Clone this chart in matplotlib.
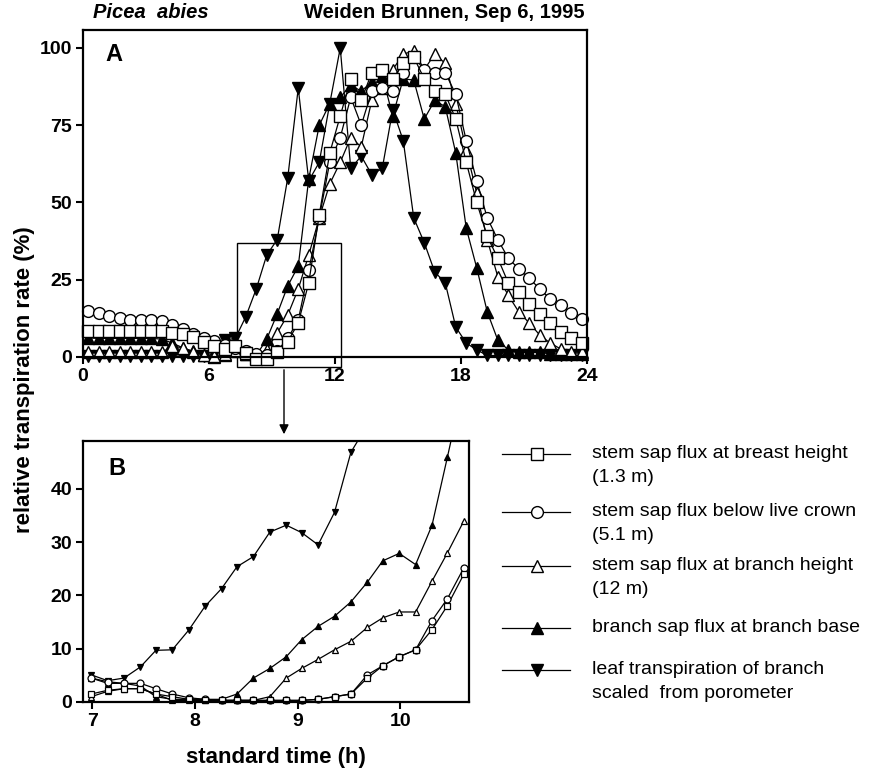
import matplotlib
matplotlib.use('Agg')
import numpy as np
import matplotlib.pyplot as plt
from matplotlib.patches import Rectangle, FancyArrowPatch

plt.rcParams['font.family'] = ['Liberation Sans', 'DejaVu Sans']

# ---- panel A : half-hourly values (h, % of maximum)
hours_a = [0.25, 0.75, 1.25, 1.75, 2.25, 2.75, 3.25, 3.75, 4.25, 4.75, 5.25, 5.75,
           6.25, 6.75, 7.25, 7.75, 8.25, 8.75, 9.25, 9.75, 10.25, 10.75, 11.25, 11.75,
           12.25, 12.75, 13.25, 13.75, 14.25, 14.75, 15.25, 15.75, 16.25, 16.75, 17.25, 17.75,
           18.25, 18.75, 19.25, 19.75, 20.25, 20.75, 21.25, 21.75, 22.25, 22.75, 23.25, 23.75]

breast_a = [8.4, 8.4, 8.4, 8.4, 8.3, 8.3, 8.3, 8.3, 7.8, 7.4, 6.5, 5.0,
            3.5, 2.5, 3.5, 1.3, -0.5, -0.5, 1.6, 5.0, 11, 24, 46, 66,
            78, 90, 83, 92, 93, 90, 95, 97, 90, 86, 85, 77,
            63, 50, 39, 32, 24, 21, 17, 14, 11, 8, 6, 4.5]

crown_a = [15.0, 14.1, 13.4, 12.7, 12.0, 12.0, 12.0, 11.7, 10.4, 9.1, 7.4, 6.2,
           5.2, 3.9, 3.0, 2.0, 1.0, 0.8, 2.0, 6.0, 12, 28, 45, 63,
           71, 84, 75, 86, 87, 86, 92, 97, 93, 92, 92, 85,
           70, 57, 45, 38, 32, 28.5, 25.5, 22, 18.8, 16.8, 14.2, 12.3]

height12_a = [1.5, 1.5, 1.5, 1.5, 1.5, 1.5, 1.5, 1.5, 3.5, 3.0, 1.5, 0.5,
              0.3, 1.0, 2.0, 1.0, 0.5, 2.3, 7.8, 13.6, 22, 33, 45, 56,
              63, 71, 68, 83, 87, 93, 98, 99, 93, 98, 95, 82,
              67, 53, 38, 26, 20, 14.6, 11, 7.1, 4.5, 2.6, 1.6, 1.6]

base_a = [6.2, 6.0, 6.0, 6.0, 6.0, 6.0, 6.0, 5.8, 4.5, 3.0, 1.8, 0.8,
          0.0, 0.5, 3.0, 1.0, 0.5, 5.8, 14, 23, 29.4, 57.6, 75, 82,
          84, 88, 86, 89, 91, 78, 90, 89.6, 77, 83, 81, 66,
          41.7, 28.8, 14.6, 5.5, 2.3, 1.5, 1.5, 1.5, 1.0, 1.0, 1.0, 1.0]

leaf_a = [0.3, 0.3, 0.3, 0.3, 0.3, 0.3, 0.3, 0.3, 0.3, 0.3, 0.3, 0.3,
          1.0, 5.5, 6, 13, 22, 33, 38, 58, 87, 57, 63, 82,
          100, 61, 65, 59, 61, 80, 70, 45, 37, 27.5, 24, 9.7,
          4.5, 2.3, 0.5, 0.5, 0.5, 0.5, 0.5, 0.5, 0.5, 0.5, 0.5, 0.5]

# ---- panel B : detail of the morning rise
hours_b = [6.99, 7.15, 7.31, 7.47, 7.62, 7.78, 7.94, 8.10, 8.26, 8.41, 8.57, 8.73,
           8.89, 9.04, 9.20, 9.36, 9.52, 9.68, 9.83, 9.99, 10.15, 10.31, 10.46, 10.62]

breast_b = [1.5, 2.2, 2.5, 2.5, 1.5, 1.0, 0.5, 0.3, 0.3, 0.3, 0.3, 0.3,
            0.3, 0.3, 0.5, 1.0, 1.5, 4.5, 6.8, 8.5, 9.8, 13.6, 18.1, 24.0]
crown_b = [4.5, 3.8, 3.5, 3.5, 2.5, 1.5, 0.8, 0.5, 0.3, 0.3, 0.3, 0.3,
           0.3, 0.3, 0.5, 1.0, 1.5, 5.1, 6.8, 8.5, 9.8, 15.3, 19.4, 25.2]
height12_b = [1.0, 2.0, 2.5, 2.5, 1.5, 0.3, 0.3, 0.3, 0.3, 0.3, 0.3, 1.0,
              4.5, 6.3, 8.0, 9.8, 11.4, 14.0, 15.8, 16.9, 16.9, 22.7, 28.0, 34.0]
base_b = [4.5, 3.5, 3.5, 3.0, 1.0, 0.5, 0.5, 0.5, 0.5, 1.5, 4.5, 6.3,
          8.5, 11.7, 14.2, 16.1, 18.8, 22.5, 26.5, 27.9, 25.8, 33.2, 46.0, 60.0]
leaf_b = [5.1, 4.0, 4.5, 6.6, 9.7, 9.8, 13.5, 18.0, 21.3, 25.4, 27.3, 31.9,
          33.2, 31.8, 29.5, 35.6, 46.9, 52.0, 62.0, 72.0, 80.0, 87.0, 87.0, 87.0]

legend_text = [['stem sap flux at breast height', '(1.3 m)'],
               ['stem sap flux below live crown', '(5.1 m)'],
               ['stem sap flux at branch height', '(12 m)'],
               ['branch sap flux at branch base'],
               ['leaf transpiration of branch', 'scaled  from porometer']]

# marker, face colour, drawing order
styles = [('s', 'white', 5), ('o', 'white', 4), ('^', 'white', 3),
          ('^', 'black', 1), ('v', 'black', 2)]

W, H = 882, 776


def box(l, t, r, b):
    return [l / W, 1 - b / H, (r - l) / W, (b - t) / H]


def style_axes(ax):
    for s in ax.spines.values():
        s.set_linewidth(1.6)
    ax.tick_params(direction='out', length=5, width=1.5, labelsize=14, pad=3)
    for lab in ax.get_xticklabels() + ax.get_yticklabels():
        lab.set_fontweight('bold')


fig = plt.figure(figsize=(8.82, 7.76), dpi=100)

# panel A
ax_a = fig.add_axes(box(83, 30, 587, 357))
series_a = [breast_a, crown_a, height12_a, base_a, leaf_a]
for vals, (mk, fc, z) in zip(series_a, styles):
    ax_a.plot(hours_a, vals, color='black', lw=0.9, marker=mk, ms=8.5,
              mfc=fc, mec='black', mew=1.0, clip_on=False, zorder=2 + z * 0.1)
ax_a.set_xlim(0, 24)
ax_a.set_ylim(0, 105.8)
ax_a.set_xticks([0, 6, 12, 18, 24])
ax_a.set_yticks([0, 25, 50, 75, 100])
style_axes(ax_a)
ax_a.text(0.045, 0.905, 'A', transform=ax_a.transAxes, fontsize=17, fontweight='bold')

# zoom rectangle in panel A
ax_a.add_patch(Rectangle((7.33, -3.2), 4.96, 40.1, fill=False, lw=1.0,
                         ec='black', clip_on=False))

# panel B
ax_b = fig.add_axes(box(83, 441, 469, 702))
series_b = [breast_b, crown_b, height12_b, base_b, leaf_b]
ylim_b = 49.0
for vals, (mk, fc, z) in zip(series_b, styles):
    ax_b.plot(hours_b, vals, color='black', lw=0.9, zorder=2)
    v = np.array(vals, dtype=float)
    v[v > ylim_b] = np.nan
    ax_b.plot(hours_b, v, ls='none', marker=mk, ms=5, mfc=fc, mec='black',
              mew=0.9, clip_on=False, zorder=2 + z * 0.1)
ax_b.set_xlim(6.91, 10.67)
ax_b.set_ylim(0, ylim_b)
ax_b.set_xticks([7, 8, 9, 10])
ax_b.set_yticks([0, 10, 20, 30, 40])
style_axes(ax_b)
ax_b.text(0.065, 0.87, 'B', transform=ax_b.transAxes, fontsize=17, fontweight='bold')

# arrow from box to panel B
fig.add_artist(FancyArrowPatch((284 / W, 1 - 367 / H), (284 / W, 1 - 437 / H),
                               transform=fig.transFigure, arrowstyle='-|>',
                               mutation_scale=14, lw=1.0, color='black'))

# titles and axis labels
fig.text(93 / W, 1 - 13 / H, 'Picea  abies', fontsize=14.5, fontweight='bold',
         fontstyle='italic', va='center', ha='left')
fig.text(585 / W, 1 - 13 / H, 'Weiden Brunnen, Sep 6, 1995', fontsize=14.5,
         fontweight='bold', va='center', ha='right')
fig.text(25 / W, 1 - 380 / H, 'relative transpiration rate (%)', rotation=90,
         fontsize=16, fontweight='bold', va='center', ha='center')
fig.text(276 / W, 1 - 757 / H, 'standard time (h)', fontsize=16,
         fontweight='bold', va='center', ha='center')

# legend drawn by hand on the right
ax_l = fig.add_axes(box(480, 430, 882, 720))
ax_l.set_xlim(480, 882)
ax_l.set_ylim(720, 430)
ax_l.axis('off')
row_y = [454, 512, 566, 628, 670]
for y, lines, (mk, fc, z) in zip(row_y, legend_text, styles):
    ax_l.plot([502, 570], [y, y], color='black', lw=0.9)
    ax_l.plot([537], [y], marker=mk, ms=8.5, mfc=fc, mec='black', mew=1.0)
    for j, t in enumerate(lines):
        ax_l.text(592, y + 23 * j, t, fontsize=14, va='center', ha='left')

fig.savefig('out.png', dpi=100)
